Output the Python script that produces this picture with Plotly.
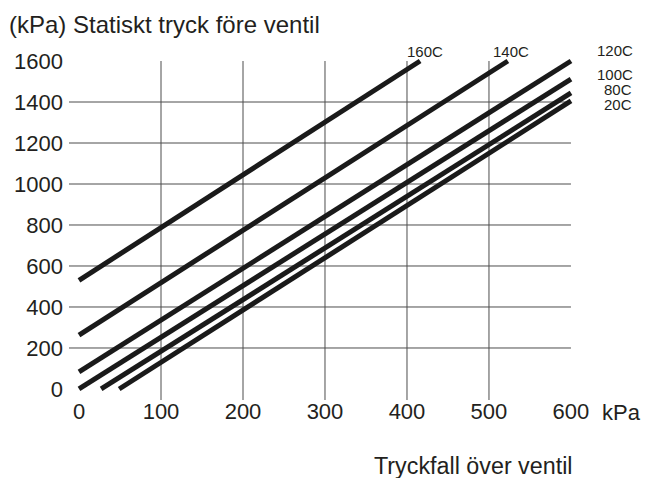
import plotly.graph_objects as go

# Data
series_names = ["160C", "140C", "120C", "100C", "80C", "20C"]
x_start = [0, 0, 0, 0, 27, 49]
y_start = [530, 263, 83, 0, 0, 0]
x_end = [416, 523, 600, 600, 600, 600]
y_end = [1600, 1600, 1600, 1512, 1444, 1405]

x_ticks = [0, 100, 200, 300, 400, 500, 600]
y_ticks = [0, 200, 400, 600, 800, 1000, 1200, 1400, 1600]
h_grid = [200, 400, 600, 800, 1000, 1200, 1400]
v_grid = [100, 200, 300, 400, 500]

FONT = "Liberation Sans, Arial, Helvetica, sans-serif"
TXT = "#231f20"
LINE = "#1a1a1a"
GRID = "#4d4d4d"

XR = [-12.2, 611]
YR = [-53.7, 1619.5]

fig = go.Figure()

for i, name in enumerate(series_names):
    fig.add_trace(go.Scatter(
        x=[x_start[i], x_end[i]], y=[y_start[i], y_end[i]],
        mode="lines", name=name,
        line=dict(color=LINE, width=5),
        showlegend=False, hoverinfo="skip",
    ))

shapes = []
for v in h_grid:
    shapes.append(dict(type="line", xref="x", yref="y", x0=XR[0], x1=600, y0=v, y1=v,
                       line=dict(color=GRID, width=1), layer="below"))
for v in v_grid:
    shapes.append(dict(type="line", xref="x", yref="y", x0=v, x1=v, y0=YR[0], y1=1600,
                       line=dict(color=GRID, width=1), layer="below"))

W = 511.0
H = 343.0
def px(xp):
    return (xp - 69) / W
def py(yp):
    return (400 - yp) / H

annotations = []
label_pos = {
    "160C": (425, 51, "center"),
    "140C": (511, 51, "center"),
    "120C": (635, 50.5, "right"),
    "100C": (635, 74.5, "right"),
    "80C": (634, 89, "right"),
    "20C": (634, 105, "right"),
}
for name in series_names:
    lx, ly, anc = label_pos[name]
    annotations.append(dict(text=name, xref="paper", yref="paper", x=px(lx), y=py(ly),
                            xanchor=anc, yanchor="middle", showarrow=False,
                            font=dict(family=FONT, size=15, color=TXT)))

annotations.append(dict(text="(kPa) Statiskt tryck före ventil", xref="paper", yref="paper",
                        x=px(7), y=py(24), xanchor="left", yanchor="middle", showarrow=False,
                        font=dict(family=FONT, size=24, color=TXT)))
annotations.append(dict(text="Tryckfall över ventil", xref="paper", yref="paper",
                        x=px(372), y=py(466), xanchor="left", yanchor="middle", showarrow=False,
                        font=dict(family=FONT, size=23.3, color=TXT)))
annotations.append(dict(text="kPa", xref="paper", yref="paper",
                        x=px(600), y=py(412), xanchor="left", yanchor="middle", showarrow=False,
                        font=dict(family=FONT, size=22, color=TXT)))

fig.update_layout(
    width=645, height=478,
    margin=dict(l=69, r=65, t=57, b=78),
    paper_bgcolor="white", plot_bgcolor="white",
    shapes=shapes, annotations=annotations,
    xaxis=dict(range=XR, tickvals=x_ticks, ticktext=[str(v) for v in x_ticks],
               showgrid=False, zeroline=False, showline=False, ticks="",
               ticklabelstandoff=-4,
               tickfont=dict(family=FONT, size=22, color=TXT)),
    yaxis=dict(range=YR, tickvals=y_ticks, ticktext=[str(v) for v in y_ticks],
               showgrid=False, zeroline=False, showline=False, ticks="",
               ticklabelstandoff=5,
               tickfont=dict(family=FONT, size=22, color=TXT)),
)

fig.write_html("out.html", config={"displayModeBar": False},
               post_script="document.body.style.margin='0px';")
